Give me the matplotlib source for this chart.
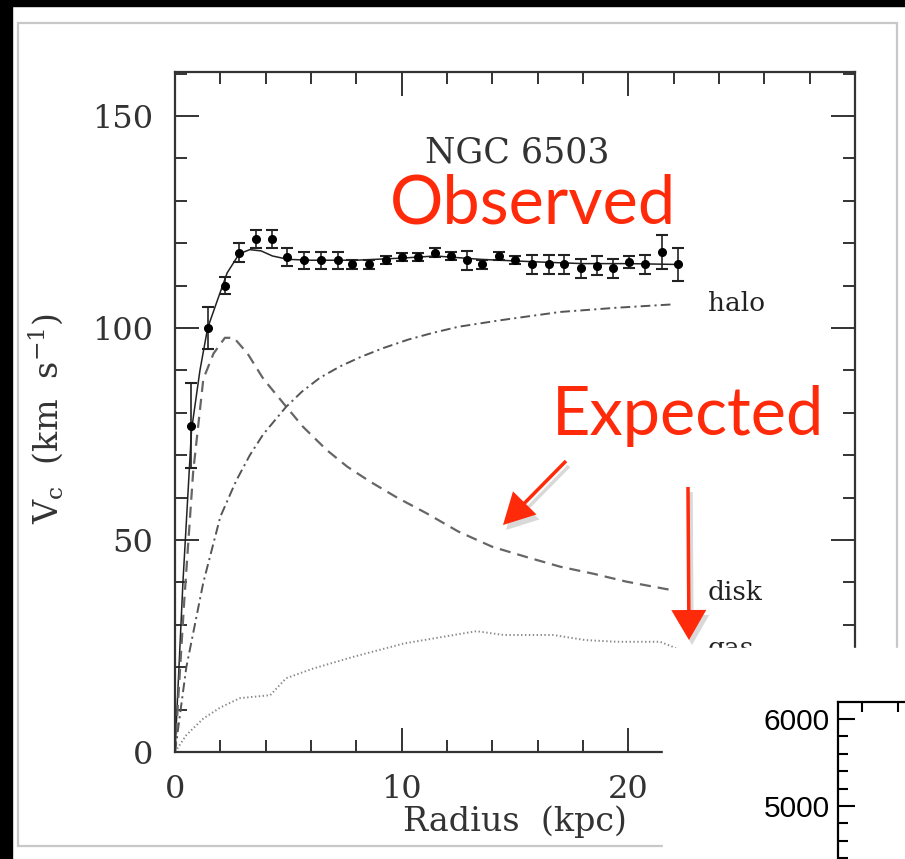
import numpy as np
import matplotlib.pyplot as plt
from matplotlib.patches import Rectangle, FancyArrow

plt.rcParams['lines.scale_dashes'] = False
plt.rcParams['mathtext.fontset'] = 'dejavuserif'

# observed rotation curve of NGC 6503
obs_r = [0.7, 1.44, 2.2, 2.83, 3.57, 4.3, 4.96, 5.7, 6.43, 7.17, 7.83, 8.56, 9.3,
         10.03, 10.7, 11.45, 12.19, 12.9, 13.55, 14.3, 15.0, 15.74, 16.48, 17.18,
         17.89, 18.6, 19.34, 20.04, 20.74, 21.47, 22.2]
obs_v = [77, 100, 110, 117.8, 121, 121, 116.8, 116, 116, 116, 115, 115, 116,
         116.8, 116.8, 117.8, 117, 116, 115, 117, 116, 115, 115, 115,
         114.1, 114.7, 114.1, 115.6, 115, 118, 115]
obs_err = [10, 5, 2, 2.2, 2.2, 2.2, 2.2, 2, 2, 2, 1, 1, 1,
           1, 1, 1, 1, 2.2, 1, 1, 1, 2.2, 2.2, 2.2,
           2.2, 2.2, 2.2, 1.5, 2.2, 4, 4]

# total fit
fit_r = [0, 0.35, 0.73, 1.1, 1.44, 1.9, 2.3, 2.83, 3.3, 3.8, 4.3, 5.0, 6, 8,
         10, 11.5, 13.5, 16, 18, 20, 22.2]
fit_v = [0, 40, 76, 90, 100, 107, 113, 117.5, 118.5, 118.2, 117, 116.2, 116, 116,
         116.5, 117, 116.2, 115.6, 115.2, 115.2, 115]

disk_r = [0, 0.4, 0.8, 1.25, 1.7, 2.2, 2.6, 3.2, 3.9, 4.9, 5.65, 6.7, 7.6, 8.6,
          9.8, 11.1, 12.5, 14.0, 15.5, 17.0, 18.5, 19.9, 21.9]
disk_v = [0, 35, 66, 88, 94, 97.7, 97.7, 94, 88, 81.5, 76.7, 71.2, 67.3, 63.8,
          60, 56.3, 52, 48.4, 46, 43.7, 42, 40.2, 38.2]

halo_r = [0, 0.5, 1.25, 2.0, 2.7, 3.3, 3.9, 4.9, 5.6, 6.4, 7.3, 8.2, 9.2, 10.3,
          11.4, 12.5, 14.3, 15.5, 17, 19.5, 22]
halo_v = [0, 20, 40, 55.5, 64, 70, 75, 81.4, 85, 88.3, 91, 93.2, 95.3, 97.3,
          98.9, 100.3, 101.8, 102.7, 103.8, 104.8, 105.6]

gas_r = [0, 0.5, 1.25, 2.0, 2.86, 4.2, 4.9, 6.1, 7.9, 10.1, 12.3, 13.3, 14.5,
         16.7, 18.1, 19.5, 21.4, 22.1]
gas_v = [0, 4, 7.9, 10.5, 12.7, 13.4, 17.4, 19.7, 22.5, 25.6, 27.6, 28.5, 27.6,
         27.6, 26.4, 26, 26, 24.5]

W, H = 905, 859
RED = '#ff2a0a'
INK = '#333333'


def fbox(x0, y0, x1, y1):
    # pixel box (top-left origin) -> figure fraction rect
    return [x0 / W, 1 - y1 / H, (x1 - x0) / W, (y1 - y0) / H]


fig = plt.figure(figsize=(W / 100, H / 100), dpi=100, facecolor='white')

# screenshot frame
bg = fig.add_axes([0, 0, 1, 1], zorder=0)
bg.set_xlim(0, W)
bg.set_ylim(H, 0)
bg.axis('off')
bg.add_patch(Rectangle((0, 0), W, 6, color='black'))
bg.add_patch(Rectangle((0, 0), 12, H, color='black'))
bg.add_patch(Rectangle((18, 23), 879, 823, facecolor='white', edgecolor='#c8c8c8', lw=1.6))

# main chart
ax = fig.add_axes(fbox(175, 72, 855, 752), zorder=1)
ax.patch.set_alpha(0)
ax.plot(fit_r, fit_v, color='#222222', lw=1.1)
ax.errorbar(obs_r, obs_v, yerr=obs_err, fmt='o', color='black', ms=5.5,
            ecolor='#222222', elinewidth=1.2, capsize=4, capthick=1.5)
ax.plot(disk_r, disk_v, color='#666666', lw=1.6, ls=(0, (8, 5)))
ax.plot(halo_r, halo_v, color='#555555', lw=1.4, ls=(0, (7, 3, 1.5, 3)))
ax.plot(gas_r, gas_v, color='#888888', lw=1.4, ls=(0, (1, 1.8)))

ax.set_xlim(0, 30)
ax.set_ylim(0, 160.4)
ax.set_xticks([0, 10, 20])
ax.set_xticks(np.arange(0, 30, 2), minor=True)
ax.set_yticks([0, 50, 100, 150])
ax.set_yticks(np.arange(0, 161, 10), minor=True)
ax.tick_params(which='both', direction='in', top=True, right=True,
               color=INK, width=1.4, labelsize=23, labelcolor=INK,
               labelfontfamily='DejaVu Serif')
ax.tick_params(which='major', length=17, pad=16)
ax.tick_params(which='minor', length=8.5)
for s in ax.spines.values():
    s.set_color(INK)
    s.set_linewidth(1.6)
ax.set_xlabel('Radius  (kpc)', family='DejaVu Serif', fontsize=24, color=INK)
ax.xaxis.set_label_coords(0.5, -0.078)
ax.set_ylabel(r'V$_{\rm c}$  (km  s$^{-1}$)', family='DejaVu Serif', fontsize=24,
              color=INK)
ax.yaxis.set_label_coords(-0.162, 0.49)
ax.text(15.1, 141.5, 'NGC 6503', ha='center', va='center', family='DejaVu Serif',
        fontsize=25, color=INK)
ax.text(23.5, 105.9, 'halo', ha='left', va='center', family='DejaVu Serif',
        fontsize=19, color='#222222', clip_on=False)
ax.text(23.5, 37.7, 'disk', ha='left', va='center', family='DejaVu Serif',
        fontsize=19, color='#222222', clip_on=False)
ax.text(23.5, 24.3, 'gas', ha='left', va='center', family='DejaVu Serif',
        fontsize=19, color='#222222', clip_on=False)

# red annotations and covering inset
top = fig.add_axes([0, 0, 1, 1], zorder=2)
top.patch.set_alpha(0)
top.set_xlim(0, W)
top.set_ylim(H, 0)
top.axis('off')
top.text(390, 223, 'Observed', color=RED, fontsize=48, family='Lato',
         ha='left', va='baseline')
top.text(552, 435, 'Expected', color=RED, fontsize=48, family='Lato',
         ha='left', va='baseline')
for dx, dy, c, a in [(3, 5, '#000000', 0.15), (0, 0, RED, 1)]:
    top.add_patch(FancyArrow(566 + dx, 461 + dy, -63, 64, width=3.5, head_width=33,
                             head_length=31, length_includes_head=True,
                             color=c, alpha=a, lw=0))
    top.add_patch(FancyArrow(688 + dx, 487 + dy, 1, 153, width=3.5, head_width=35,
                             head_length=30, length_includes_head=True,
                             color=c, alpha=a, lw=0))
top.add_patch(Rectangle((663, 648), W - 663, H - 648, color='white'))

ax2 = fig.add_axes(fbox(838, 702, 1200, 1000), zorder=3)
ax2.set_xlim(0, 30)
ax2.set_ylim(2770, 6195)
ax2.set_xticks(np.arange(2, 30, 3))
ax2.set_yticks([5000, 6000])
ax2.set_yticks(np.arange(4400, 6200, 200), minor=True)
ax2.tick_params(which='both', direction='in', top=True, labelbottom=False,
                width=1.5, color='black', labelsize=21.5, pad=6,
                labelfontfamily='Liberation Sans')
ax2.tick_params(axis='y', which='major', length=12)
ax2.tick_params(axis='y', which='minor', length=7)
ax2.tick_params(axis='x', which='major', length=7)
for s in ax2.spines.values():
    s.set_linewidth(1.6)

fig.savefig('out.png', dpi=100)
